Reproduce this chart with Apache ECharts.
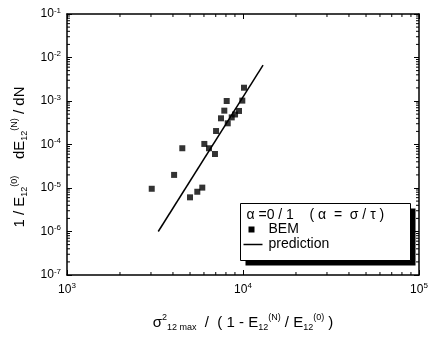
<!DOCTYPE html>
<html>
<head>
<meta charset="utf-8">
<script src="https://cdn.jsdelivr.net/npm/echarts@6/dist/echarts.min.js"></script>
<style>
  html, body { margin: 0; padding: 0; background: #fff; }
  #chart { width: 432px; height: 337px; }
</style>
</head>
<body>
<div id="chart"></div>
<script>
// BEM points (x: sigma^2/(1-E/E0), y: dE/dN / E0)
const bemX = [3030, 4060, 4520, 5000, 5500, 5870, 6030, 6410, 6930, 7030, 7500, 7830, 8080, 8190, 8630, 9010, 9490, 9910, 10130];
const bemY = [9.6e-6, 2.0e-5, 8.2e-5, 6.1e-6, 8.2e-6, 1.02e-5, 1.03e-4, 8.2e-5, 6.05e-5, 2.04e-4, 4.0e-4, 6.0e-4, 1.0e-3, 3.07e-4, 4.2e-4, 4.9e-4, 5.9e-4, 1.02e-3, 2.02e-3];
// prediction line end points
const predX = [3300, 13000];
const predY = [1.0e-6, 6.7e-3];
// log minor ticks (2..9 per decade)
const xMinor = [2e3, 3e3, 4e3, 5e3, 6e3, 7e3, 8e3, 9e3, 2e4, 3e4, 4e4, 5e4, 6e4, 7e4, 8e4, 9e4];
const yMinor = [];
[-7, -6, -5, -4, -3, -2].forEach(e => {
  [2, 3, 4, 5, 6, 7, 8, 9].forEach(m => yMinor.push(m * Math.pow(10, e)));
});

const font = 'Liberation Sans';
const xMin = 1e3, xMax = 1e5, yMin = 1e-7, yMax = 1e-1;

const tickRich = {
  b: { fontSize: 12, fontFamily: font, color: '#000', lineHeight: 15 },
  s: { fontSize: 8, fontFamily: font, color: '#000', verticalAlign: 'top', lineHeight: 9 }
};
function powLabel(v) {
  const e = Math.round(Math.log10(v));
  return '{b|10}{s|' + e + '}';
}

const nameRich = {
  t: { fontSize: 15, fontFamily: font, color: '#000', lineHeight: 19 },
  sup: { fontSize: 9, fontFamily: font, color: '#000', verticalAlign: 'top', lineHeight: 10 },
  sub: { fontSize: 9, fontFamily: font, color: '#000', verticalAlign: 'bottom', lineHeight: 10 }
};

const axisCommon = {
  type: 'log',
  logBase: 10,
  interval: 1,
  axisLine: { lineStyle: { color: '#000', width: 1.5 } },
  axisTick: { inside: true, length: 5, lineStyle: { color: '#000', width: 1 } },
  splitLine: { show: false }
};

let bem = bemX.map((x, i) => [x, bemY[i]]);
let pred = predX.map((x, i) => [x, predY[i]]);

function minorTickItem(horizontal) {
  return function (params, api) {
    let a, b, c, d;
    if (horizontal) {
      a = api.coord([api.value(0), yMin]);
      b = api.coord([api.value(0), yMax]);
      return { type: 'group', children: [
        { type: 'line', shape: { x1: a[0], y1: a[1], x2: a[0], y2: a[1] - 3 }, style: { stroke: '#000', lineWidth: 1 } },
        { type: 'line', shape: { x1: b[0], y1: b[1], x2: b[0], y2: b[1] + 3 }, style: { stroke: '#000', lineWidth: 1 } }
      ] };
    }
    c = api.coord([xMin, api.value(1)]);
    d = api.coord([xMax, api.value(1)]);
    return { type: 'group', children: [
      { type: 'line', shape: { x1: c[0], y1: c[1], x2: c[0] + 3, y2: c[1] }, style: { stroke: '#000', lineWidth: 1 } },
      { type: 'line', shape: { x1: d[0], y1: d[1], x2: d[0] - 3, y2: d[1] }, style: { stroke: '#000', lineWidth: 1 } }
    ] };
  };
}

let chart = echarts.init(document.getElementById('chart'));
chart.setOption({
  animation: false,
  backgroundColor: '#fff',
  grid: { left: 67, top: 14, right: 13, bottom: 62 },
  xAxis: [
    Object.assign({}, axisCommon, {
      position: 'bottom', min: xMin, max: xMax,
      axisLabel: { formatter: powLabel, rich: tickRich, margin: 7 },
      name: '{t|σ}{sup|2}{sub|12 max}{t|  /  ( 1 - E}{sub|12}{sup|(N)}{t| / E}{sub|12}{sup|(0)}{t| )}',
      nameLocation: 'middle', nameGap: 38,
      nameTextStyle: { rich: nameRich }
    }),
    Object.assign({}, axisCommon, {
      position: 'top', min: xMin, max: xMax,
      axisLabel: { show: false }
    })
  ],
  yAxis: [
    Object.assign({}, axisCommon, {
      position: 'left', min: yMin, max: yMax,
      axisLabel: { formatter: powLabel, rich: tickRich, margin: 6 },
      name: '{t|1 / E}{sub|12}{sup|(0)}{t|    dE}{sub|12}{sup|(N)}{t| / dN}',
      nameLocation: 'middle', nameGap: 38, nameRotate: 90,
      nameTextStyle: { rich: nameRich, padding: [0, 25, 0, 0] }
    }),
    Object.assign({}, axisCommon, {
      position: 'right', min: yMin, max: yMax,
      axisLabel: { show: false }
    })
  ],
  series: [
    {
      type: 'custom', silent: true, clip: false,
      data: xMinor.map(v => [v, yMin]),
      renderItem: minorTickItem(true)
    },
    {
      type: 'custom', silent: true, clip: false,
      data: yMinor.map(v => [xMin, v]),
      renderItem: minorTickItem(false)
    },
    {
      name: 'BEM', type: 'scatter', data: bem,
      symbol: 'rect', symbolSize: 6,
      itemStyle: { color: '#000' }
    },
    {
      name: 'prediction', type: 'line', data: pred,
      symbol: 'none',
      lineStyle: { color: '#000', width: 1.5 }
    }
  ],
  graphic: [{
    type: 'group', left: 240, top: 203, z: 100,
    children: [
      { type: 'rect', shape: { x: 5, y: 5, width: 170, height: 57 }, style: { fill: '#000' } },
      { type: 'rect', shape: { x: 0, y: 0, width: 170, height: 57 }, style: { fill: '#fff', stroke: '#000', lineWidth: 1 } },
      { type: 'text', x: 6, y: 12, style: { text: 'α =0 / 1    ( α  =  σ / τ )', font: '14px "Liberation Sans"', fill: '#000', verticalAlign: 'middle' } },
      { type: 'rect', shape: { x: 8, y: 23, width: 6, height: 6 }, style: { fill: '#000' } },
      { type: 'text', x: 28, y: 26, style: { text: 'BEM', font: '14px "Liberation Sans"', fill: '#000', verticalAlign: 'middle' } },
      { type: 'line', shape: { x1: 3, y1: 41, x2: 22, y2: 41 }, style: { stroke: '#000', lineWidth: 1.5 } },
      { type: 'text', x: 28, y: 41, style: { text: 'prediction', font: '14px "Liberation Sans"', fill: '#000', verticalAlign: 'middle' } }
    ]
  }]
});
</script>
</body>
</html>
